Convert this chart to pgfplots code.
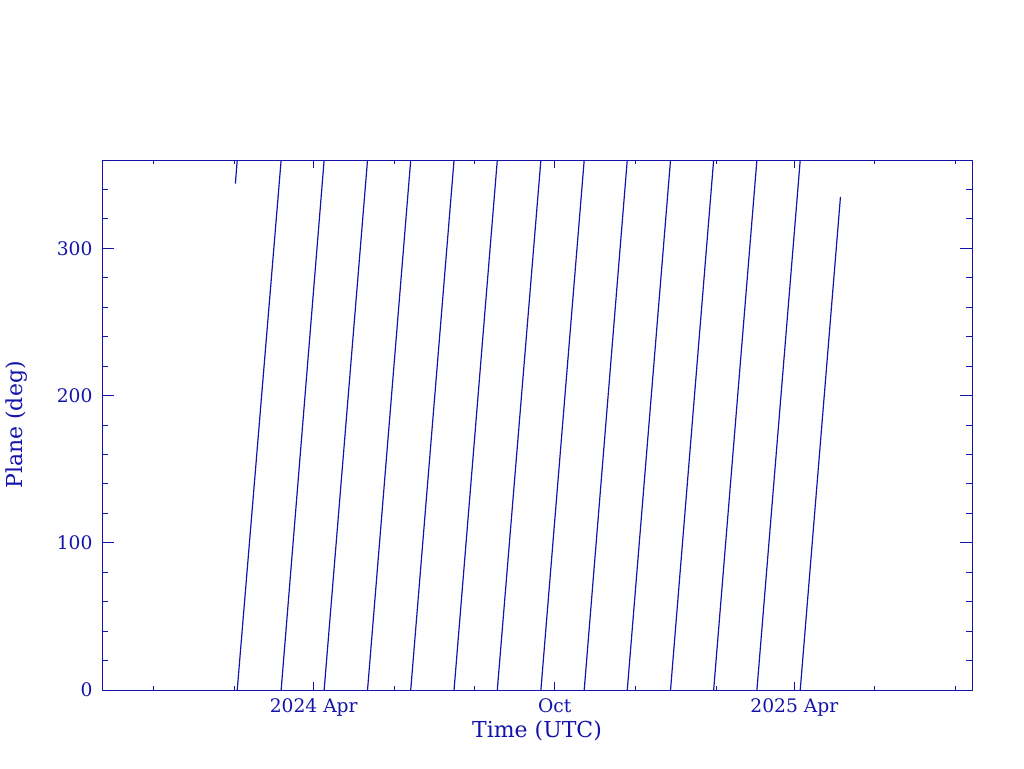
\documentclass[border=0pt]{standalone}
\usepackage{fontspec}
\setmainfont{DejaVu Serif}
\usepackage{pgfplots}
\pgfplotsset{compat=1.18}
\definecolor{pgblue}{RGB}{20,20,170}
\begin{document}
\begin{tikzpicture}
\useasboundingbox (0,0) rectangle (768pt,576pt);
\begin{axis}[
  at={(76.5pt,58.5pt)}, anchor=south west,
  scale only axis, width=652.5pt, height=397.5pt,
  xmin=-160.8, xmax=499.9, ymin=0, ymax=360,
  axis line style={pgblue, line width=0.75pt},
  every tick/.style={pgblue, line width=0.75pt},
  xtick={0,183,365}, xticklabels={2024 Apr, Oct, 2025 Apr},
  minor xtick={-122,-60,61,122,244,306,426,487},
  ytick={0,100,200,300},
  minor ytick={20,40,60,80,120,140,160,180,220,240,260,280,320,340},
  major tick length=9pt, minor tick length=4.5pt,
  xtick style={/pgfplots/major tick length=6pt, /pgfplots/minor tick length=2.8pt},
  /pgf/number format/assume math mode=true,
  tick label style={font=\fontsize{14}{16}\selectfont, text=pgblue},
  xticklabel style={anchor=base, yshift=-16.5pt},
  yticklabel style={anchor=east, inner sep=0pt, xshift=-7pt},
  label style={font=\fontsize{16.5}{19}\selectfont, text=pgblue},
  xlabel={Time (UTC)}, ylabel={Plane (deg)},
  xlabel style={at={(axis description cs:0.5,-0.0887)}, anchor=base},
  ylabel style={at={(axis description cs:-0.0911,0.5)}, anchor=base},
  unbounded coords=jump,
]
\addplot[pgblue, line width=0.9pt, mark=none] coordinates {
  (-59.5,344) (-58.1,360) (-58.1,nan)
  (-58.1,0) (-24.75,360) (-24.75,nan)
  (-24.75,0) (7.9,360) (7.9,nan)
  (7.9,0) (40.85,360) (40.85,nan)
  (40.85,0) (73.65,360) (73.65,nan)
  (73.65,0) (106.55,360) (106.55,nan)
  (106.55,0) (139.4,360) (139.4,nan)
  (139.4,0) (172.5,360) (172.5,nan)
  (172.5,0) (205.4,360) (205.4,nan)
  (205.4,0) (238.1,360) (238.1,nan)
  (238.1,0) (270.95,360) (270.95,nan)
  (270.95,0) (303.7,360) (303.7,nan)
  (303.7,0) (336.55,360) (336.55,nan)
  (336.55,0) (369.45,360) (369.45,nan)
  (369.45,0) (400.0,335)
};
\end{axis}
\end{tikzpicture}
\end{document}
